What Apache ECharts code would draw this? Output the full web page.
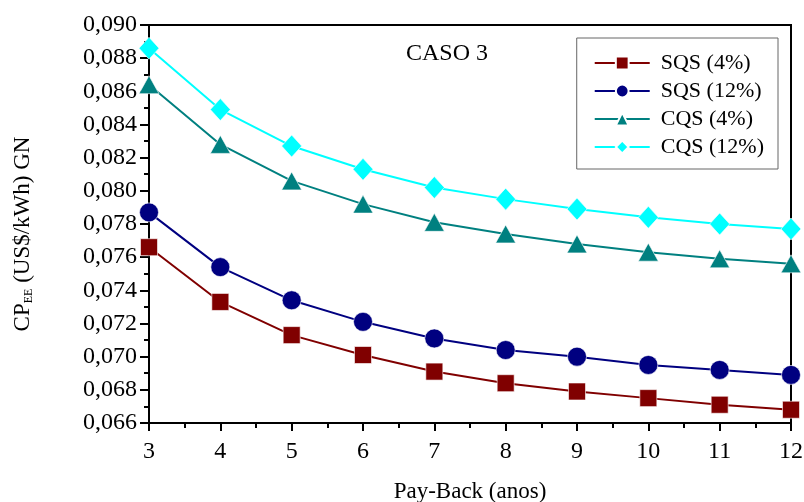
<!DOCTYPE html>
<html>
<head>
<meta charset="utf-8">
<script src="https://cdn.jsdelivr.net/npm/echarts@6/dist/echarts.min.js"></script>
<style>
  html, body { margin: 0; padding: 0; background: #fff; }
  #chart { width: 804px; height: 502px; }
</style>
</head>
<body>
<div id="chart"></div>
<script>
// Pay-back period (years)
var payBack = [3, 4, 5, 6, 7, 8, 9, 10, 11, 12];

// Electricity cost, natural gas (US$/kWh)
var sqs4  = [0.0766, 0.0733, 0.0713, 0.0701, 0.0691, 0.0684, 0.0679, 0.0675, 0.0671, 0.0668];
var sqs12 = [0.0787, 0.0754, 0.0734, 0.0721, 0.0711, 0.0704, 0.0700, 0.0695, 0.0692, 0.0689];
var cqs4  = [0.0864, 0.0828, 0.0806, 0.0792, 0.0781, 0.0774, 0.0768, 0.0763, 0.0759, 0.0756];
var cqs12 = [0.0886, 0.0849, 0.0827, 0.0813, 0.0802, 0.0795, 0.0789, 0.0784, 0.0780, 0.0777];

var seriesNames = ['SQS (4%)', 'SQS (12%)', 'CQS (4%)', 'CQS (12%)'];
var seriesColors = ['#800000', '#000080', '#008080', '#00ffff'];

var font = 'Liberation Serif, Times New Roman, serif';

function pairs(vals) {
  return payBack.map(function (x, i) { return [x, vals[i]]; });
}

var chart = echarts.init(document.getElementById('chart'), null, { renderer: 'canvas' });

var symbols = [
  { symbol: 'rect', size: 17 },
  { symbol: 'circle', size: 19 },
  { symbol: 'triangle', size: [20, 18] },
  { symbol: 'diamond', size: [20, 22] }
];

var allData = [sqs4, sqs12, cqs4, cqs12];

chart.setOption({
  animation: false,
  backgroundColor: '#fff',
  title: {
    text: 'CASO 3',
    left: 406,
    top: 42,
    padding: 0,
    textStyle: { fontFamily: font, fontSize: 24, fontWeight: 'normal', color: '#000' }
  },
  legend: {
    data: seriesNames,
    orient: 'vertical',
    right: 26,
    top: 38,
    borderColor: '#666',
    borderWidth: 1,
    padding: [14, 14, 11, 17],
    itemWidth: 55,
    itemHeight: 16,
    itemGap: 6,
    textStyle: { fontFamily: font, fontSize: 22, color: '#000', padding: [0, 0, 0, 6] }
  },
  grid: {
    left: 149,
    right: 13,
    top: 25,
    bottom: 79,
    outerBoundsMode: 'none',
    containLabel: false,
    show: true,
    borderColor: '#000',
    borderWidth: 2,
    backgroundColor: 'transparent'
  },
  xAxis: {
    type: 'value',
    min: 3,
    max: 12,
    interval: 1,
    name: 'Pay-Back (anos)',
    nameLocation: 'middle',
    nameGap: 57,
    nameTextStyle: { fontFamily: font, fontSize: 23, color: '#000' },
    axisLine: { show: true, lineStyle: { color: '#000', width: 2 } },
    axisTick: { show: true, inside: false, length: 8, lineStyle: { color: '#000', width: 2 } },
    minorTick: { show: true, splitNumber: 2, length: 5, lineStyle: { color: '#000', width: 2 } },
    splitLine: { show: false },
    axisLabel: { fontFamily: font, fontSize: 24, color: '#000', margin: 17 }
  },
  yAxis: {
    type: 'value',
    min: 0.066,
    max: 0.090,
    interval: 0.002,
    name: 'CP{sub|EE} (US$/kWh) GN',
    nameLocation: 'middle',
    nameGap: 114,
    nameRotate: 90,
    nameTextStyle: {
      fontFamily: font, fontSize: 23, color: '#000',
      padding: [0, 20, 0, 0],
      rich: {
        sub: { fontFamily: font, fontSize: 12, color: '#000', verticalAlign: 'bottom', padding: [13, 0, 0, 0] }
      }
    },
    axisLine: { show: true, lineStyle: { color: '#000', width: 2 } },
    axisTick: { show: true, inside: false, length: 9, lineStyle: { color: '#000', width: 2 } },
    minorTick: { show: true, splitNumber: 2, length: 5, lineStyle: { color: '#000', width: 2 } },
    splitLine: { show: false },
    axisLabel: {
      fontFamily: font, fontSize: 24, color: '#000', margin: 12,
      formatter: function (v) { return v.toFixed(3).replace('.', ','); }
    }
  },
  series: seriesNames.map(function (name, i) {
    return {
      name: name,
      type: 'line',
      data: pairs(allData[i]),
      symbol: symbols[i].symbol,
      symbolSize: symbols[i].size,
      clip: true,
      itemStyle: { color: seriesColors[i], borderColor: '#fff', borderWidth: 0.6 },
      lineStyle: { color: seriesColors[i], width: 2 }
    };
  })
});
</script>
</body>
</html>
